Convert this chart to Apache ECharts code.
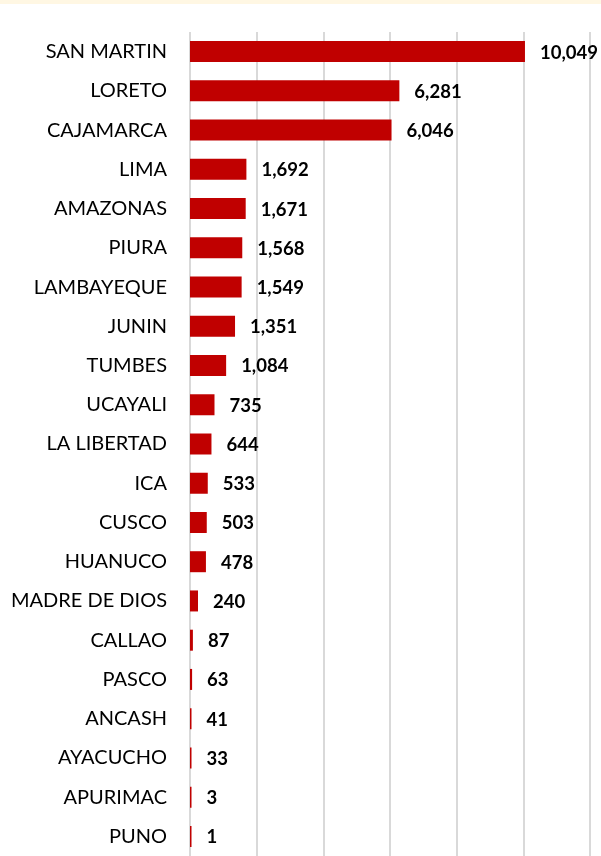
<!DOCTYPE html>
<html><head><meta charset="utf-8">
<script src="https://cdn.jsdelivr.net/npm/echarts@6/dist/echarts.min.js"></script>
<style>html,body{margin:0;padding:0;background:#fff}#c{width:601px;height:856px}</style>
</head><body><div id="c"></div>
<script>
const categories = ["SAN MARTIN","LORETO","CAJAMARCA","LIMA","AMAZONAS","PIURA","LAMBAYEQUE","JUNIN","TUMBES","UCAYALI","LA LIBERTAD","ICA","CUSCO","HUANUCO","MADRE DE DIOS","CALLAO","PASCO","ANCASH","AYACUCHO","APURIMAC","PUNO"];
const values = [10049,6281,6046,1692,1671,1568,1549,1351,1084,735,644,533,503,478,240,87,63,41,33,3,1];
const axisMax = 12000;
const axisInterval = 2000;

const chart = echarts.init(document.getElementById('c'), null, {renderer:'canvas'});
chart.setOption({
  animation:false,
  backgroundColor:'#ffffff',
  graphic:[{type:'rect',left:0,top:0,shape:{width:601,height:4},style:{fill:'#fff7e3'}}],
  grid:{left:190,top:32,width:400,height:828,containLabel:false},
  xAxis:{type:'value',min:0,max:axisMax,interval:axisInterval,
    axisLabel:{show:false},axisLine:{show:false},axisTick:{show:false},
    splitLine:{show:true,lineStyle:{color:'#d9d9d9',width:2}}},
  yAxis:{type:'category',data:categories,inverse:true,
    axisLine:{show:false},axisTick:{show:false},
    axisLabel:{color:'#000',fontFamily:'Lato',fontSize:20,margin:23}},
  series:[{type:'bar',data:values,barWidth:21,barMinHeight:1.5,
    itemStyle:{color:'#c00000'},
    label:{show:true,position:'right',distance:15,color:'#000',fontFamily:'Lato',fontWeight:'bold',fontSize:18.5,
      offset:[0,1],
      formatter:p=>p.value.toLocaleString('en-US')}}]
});
</script></body></html>
